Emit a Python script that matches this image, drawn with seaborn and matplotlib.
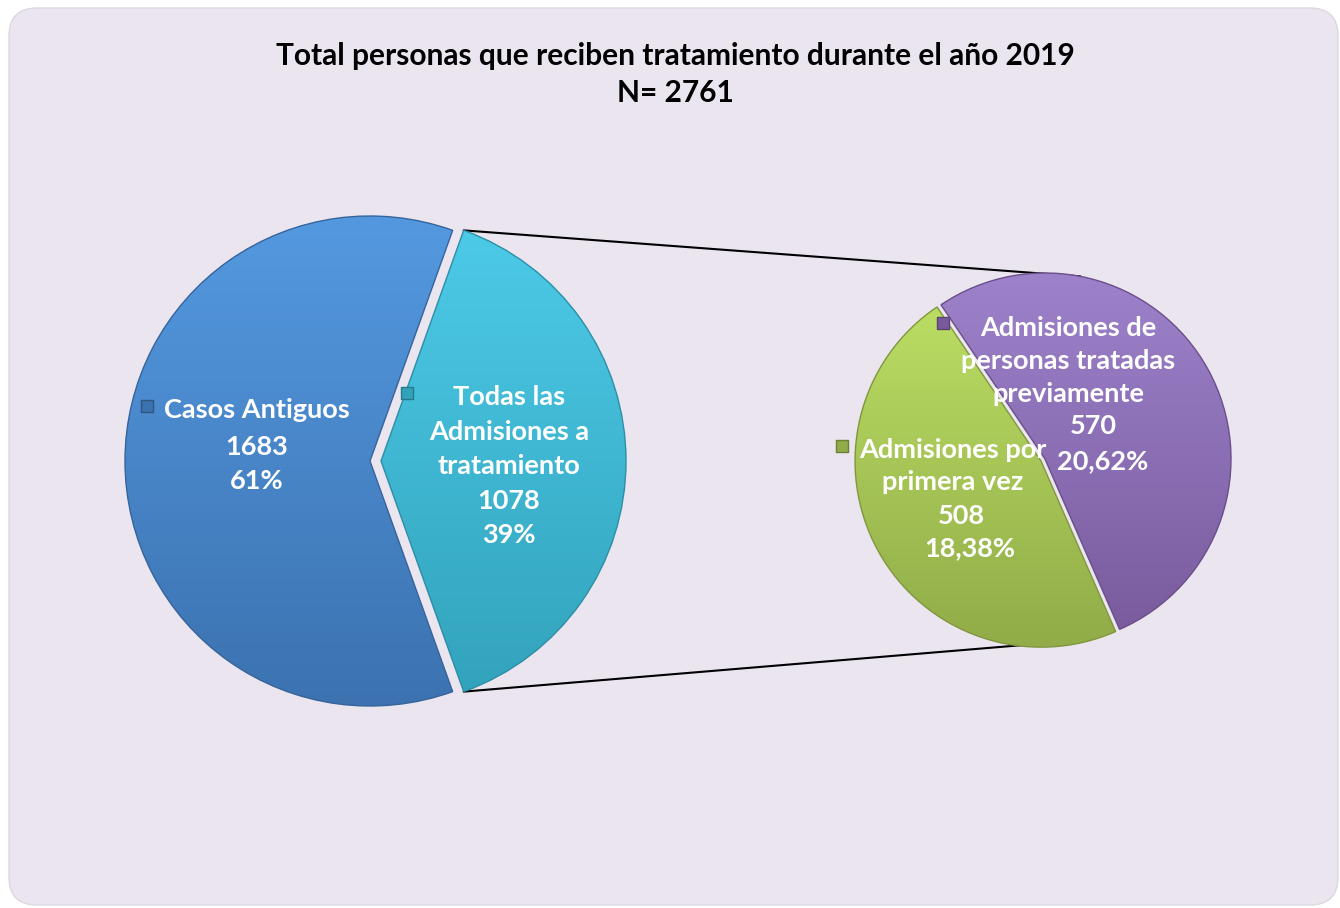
import numpy as np
import matplotlib
matplotlib.use("Agg")
import matplotlib.pyplot as plt
import matplotlib.colors as mcolors
from matplotlib.patches import FancyBboxPatch
import seaborn as sns

# ── Data ──────────────────────────────────────────────────────────────────────
TITLE = "Total personas que reciben tratamiento durante el año 2019"
N_TOTAL = 2761

main_names = ["Todas las\nAdmisiones a\ntratamiento", "Casos Antiguos"]
main_values = [1078, 1683]
main_pcts = ["39%", "61%"]

sub_names = ["Admisiones por\nprimera vez", "Admisiones de\npersonas tratadas\npreviamente"]
sub_values = [508, 570]
sub_pcts = ["18,38%", "20,62%"]

# (top, bottom) colours of each slice gradient
main_colors = [("#4DCBE9", "#32A2BB"), ("#5499E0", "#3C72B0")]
sub_colors = [("#BEE166", "#91AC48"), ("#9D82CB", "#785A9C")]

# ── Layout (pixels, y measured from the top) ─────────────────────────────────
W, H = 1340, 908
BG = "#EBE5F0"
LEFT_C, LEFT_R = (370, 461), 245
RIGHT_C, RIGHT_R = (1045, 459), 186
MAIN_EXPLODE = [11, 0]      # pixels (pie explode is in data units)
SUB_EXPLODE = [4.5, 0]
ZOOM_ANGLES = (79, -76)
# marker, first name line, value line, pct line (x, y)
main_lbl = [dict(mk=(407, 393), name=(509, 397), val=(509, 501), pct=(509, 535), step=34.5),
            dict(mk=(147, 406), name=(257, 410), val=(257, 447), pct=(257, 481), step=34.5)]
sub_lbl = [dict(mk=(842, 446), name=(953, 450), val=(961, 516), pct=(970, 548), step=32.5),
           dict(mk=(943, 323), name=(1068, 328), val=(1093, 426), pct=(1103, 461), step=33)]

sns.set_theme(style="white")
plt.rcParams["font.family"] = ["Lato", "DejaVu Sans"]

fig = plt.figure(figsize=(W / 100, H / 100), dpi=100)
fig.patch.set_facecolor("white")
ax = fig.add_axes([0, 0, 1, 1])


def fy(y):
    return H - y


ax.add_patch(FancyBboxPatch((9, fy(905)), 1329, 897,
                            boxstyle="round,pad=0,rounding_size=28",
                            facecolor=BG, edgecolor="#DCD7E0", lw=1, zorder=0))

main_w, _ = ax.pie(main_values, center=(LEFT_C[0], fy(LEFT_C[1])), radius=LEFT_R,
                   startangle=-180 * main_values[0] / sum(main_values),
                   explode=MAIN_EXPLODE, wedgeprops=dict(linewidth=0))
sub_w, _ = ax.pie(sub_values, center=(RIGHT_C[0], fy(RIGHT_C[1])), radius=RIGHT_R,
                  startangle=124, explode=SUB_EXPLODE, wedgeprops=dict(linewidth=0))


def shade(w, top, bottom):
    cmap = mcolors.LinearSegmentedColormap.from_list("", [bottom, top])
    grad = np.linspace(0, 1, 256).reshape(-1, 1)
    cx, cy = w.center
    r = w.r
    im = ax.imshow(grad, cmap=cmap, origin="lower", aspect="auto",
                   extent=(cx - r, cx + r, cy - r, cy + r), zorder=2)
    im.set_clip_path(w)
    edge = np.array(mcolors.to_rgb(bottom)) * 0.88
    w.set_facecolor("none")
    w.set_edgecolor(edge)
    w.set_linewidth(1.0)
    w.set_zorder(3)


for w, (t, b) in zip(main_w, main_colors):
    shade(w, t, b)
for w, (t, b) in zip(sub_w, sub_colors):
    shade(w, t, b)

# connector lines between the exploded slice and the second pie
cyan = main_w[0]
rc = (RIGHT_C[0], fy(RIGHT_C[1]))
for th_main, th_sub in zip([cyan.theta2, cyan.theta1], ZOOM_ANGLES):
    x0 = cyan.center[0] + cyan.r * np.cos(np.radians(th_main))
    y0 = cyan.center[1] + cyan.r * np.sin(np.radians(th_main))
    x1 = rc[0] + RIGHT_R * np.cos(np.radians(th_sub))
    y1 = rc[1] + RIGHT_R * np.sin(np.radians(th_sub))
    ax.plot([x0, x1], [y0, y1], color="black", lw=1.5, zorder=1)

FS = 19.5
txt = dict(color="white", fontweight="bold", fontsize=FS, ha="center", va="center", zorder=5)


def label(lay, name, value, pct, colors):
    ax.scatter([lay["mk"][0]], [fy(lay["mk"][1])], marker="s", s=85,
               color=colors[1], edgecolor=np.array(mcolors.to_rgb(colors[1])) * 0.75,
               linewidth=1, zorder=5)
    for i, line in enumerate(name.split("\n")):
        ax.text(lay["name"][0], fy(lay["name"][1] + i * lay["step"]), line, **txt)
    ax.text(lay["val"][0], fy(lay["val"][1]), f"{value}", **txt)
    ax.text(lay["pct"][0], fy(lay["pct"][1]), pct, **txt)


for lay, n, v, p, c in zip(main_lbl, main_names, main_values, main_pcts, main_colors):
    label(lay, n, v, p, c)
for lay, n, v, p, c in zip(sub_lbl, sub_names, sub_values, sub_pcts, sub_colors):
    label(lay, n, v, p, c)

ax.text(675, fy(56), TITLE, ha="center", va="center", fontsize=21.5, fontweight="bold", color="black")
ax.text(675, fy(93), f"N= {N_TOTAL}", ha="center", va="center", fontsize=21.5, fontweight="bold", color="black")

ax.set_xlim(0, W)
ax.set_ylim(0, H)
ax.set_aspect("equal")
ax.axis("off")

fig.savefig("out.png", dpi=100, facecolor="white")
